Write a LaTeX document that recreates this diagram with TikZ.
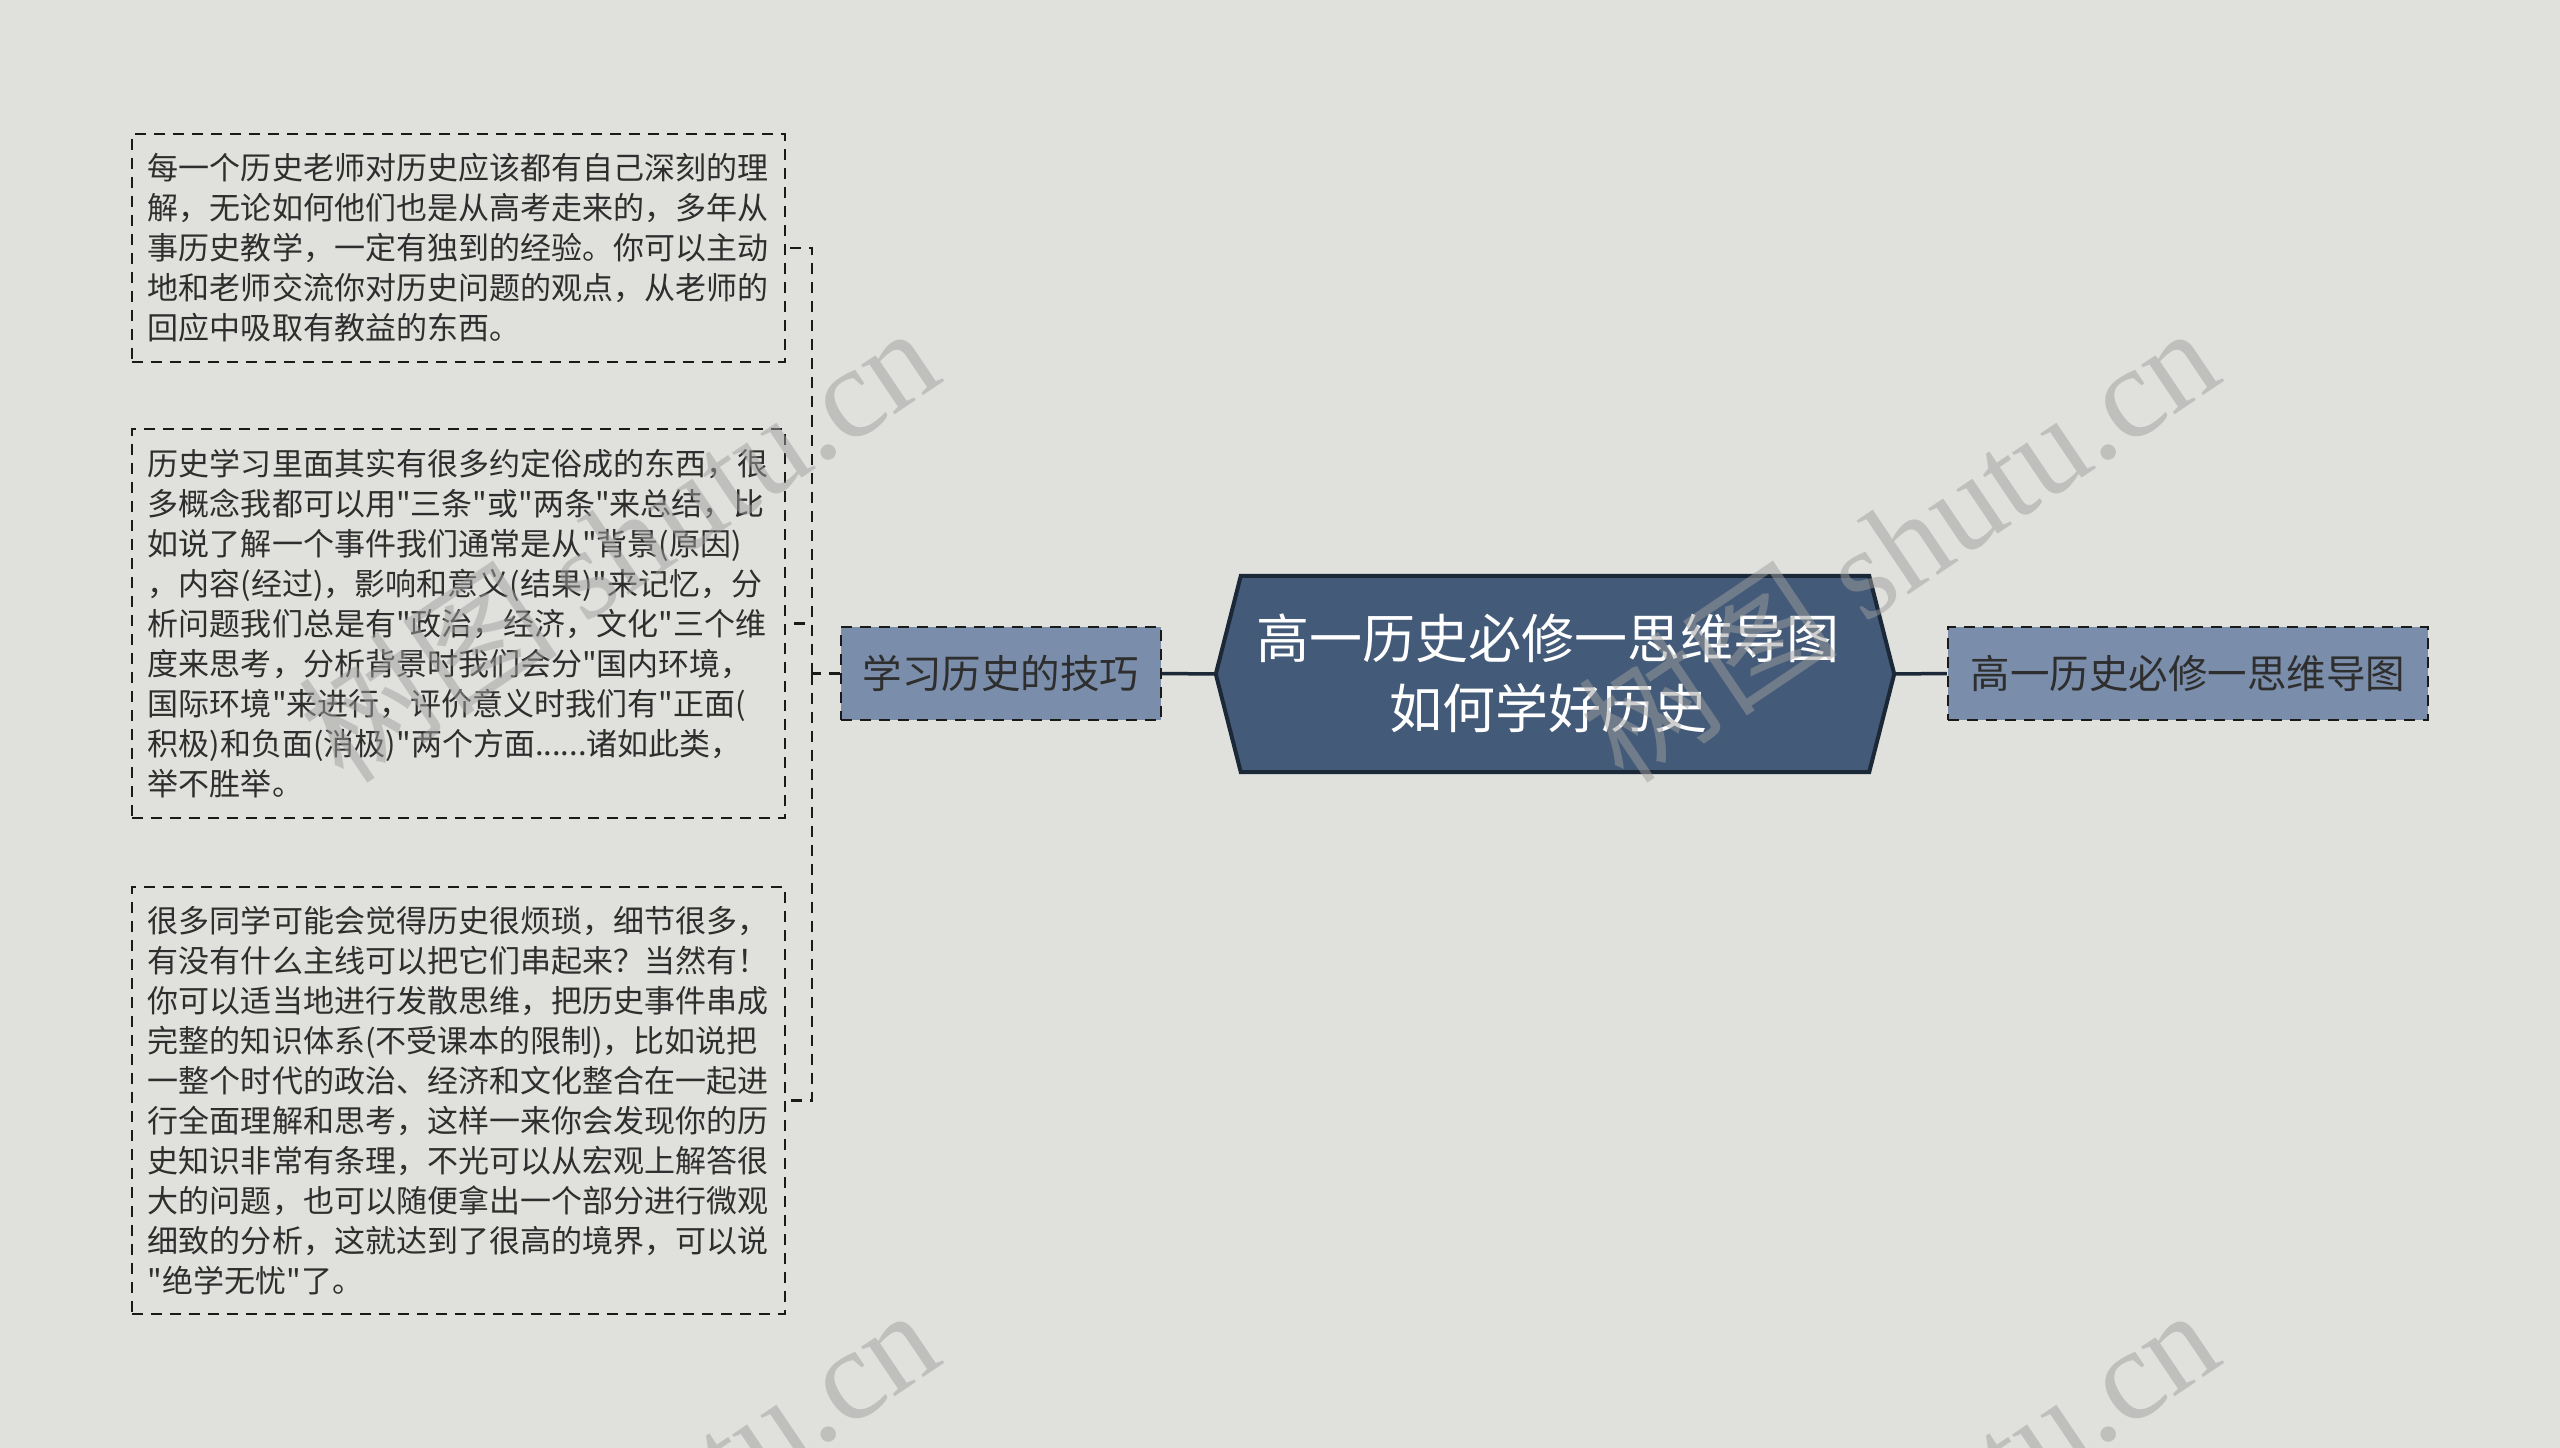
\documentclass[tikz,border=0pt]{standalone}
\usepackage{fontspec}
\setmainfont{Noto Sans CJK SC}[Ligatures=TeXOff]
\newfontfamily\wmlatin{Liberation Serif}
\definecolor{bgc}{HTML}{E0E1DD}
\definecolor{hexfill}{HTML}{435A78}
\definecolor{hexline}{HTML}{1B2838}
\definecolor{sidefill}{HTML}{7A8DAA}
\definecolor{txt}{HTML}{2E2E2E}
\definecolor{dashc}{HTML}{1A1A1A}
\begin{document}
\begin{tikzpicture}[x=1bp,y=-1bp,
  leaf/.style={draw=dashc, line width=2.2bp, dash pattern=on 11bp off 8bp, text=txt, align=left, text width=621bp, inner xsep=16bp, inner ysep=0bp, font=\fontsize{31bp}{40bp}\selectfont},
  side/.style={draw=dashc, fill=sidefill, line width=2.2bp, dash pattern=on 11bp off 8bp, text=txt, minimum height=93bp, inner sep=0bp, font=\fontsize{39.5bp}{48bp}\selectfont},
  conn/.style={draw=hexline, line width=3.5bp},
  tree/.style={draw=dashc, line width=2.2bp, dash pattern=on 11bp off 8bp},
  wm/.style={text=gray!75, text opacity=0.5, rotate=34, anchor=base east, inner sep=0pt, font=\fontsize{130bp}{130bp}\selectfont}
]
\fill[bgc] (0,0) rectangle (2560,1448);
\useasboundingbox (0,0) rectangle (2560,1448);

% leaves
\node[leaf, minimum height=228bp] (leaf1) at (458.5,248) {每一个历史老师对历史应该都有自己深刻的理\\
解，无论如何他们也是从高考走来的，多年从\\
事历史教学，一定有独到的经验。你可以主动\\
地和老师交流你对历史问题的观点，从老师的\\
回应中吸取有教益的东西。};

\node[leaf, minimum height=389bp] (leaf2) at (458.5,623.5) {历史学习里面其实有很多约定俗成的东西，很\\
多概念我都可以用"三条"或"两条"来总结，比\\
如说了解一个事件我们通常是从"背景(原因)\\
，内容(经过)，影响和意义(结果)"来记忆，分\\
析问题我们总是有"政治，经济，文化"三个维\\
度来思考，分析背景时我们会分"国内环境，\\
国际环境"来进行，评价意义时我们有"正面(\\
积极)和负面(消极)"两个方面......诸如此类，\\
举不胜举。};

\node[leaf, minimum height=427bp] (leaf3) at (458.5,1100.5) {很多同学可能会觉得历史很烦琐，细节很多，\\
有没有什么主线可以把它们串起来？当然有！\\
你可以适当地进行发散思维，把历史事件串成\\
完整的知识体系(不受课本的限制)，比如说把\\
一整个时代的政治、经济和文化整合在一起进\\
行全面理解和思考，这样一来你会发现你的历\\
史知识非常有条理，不光可以从宏观上解答很\\
大的问题，也可以随便拿出一个部分进行微观\\
细致的分析，这就达到了很高的境界，可以说\\
"绝学无忧"了。};

% side nodes
\node[side, minimum width=320bp] (skill) at (1001,673.5) {学习历史的技巧};
\node[side, minimum width=480bp] (title) at (2188,673.5) {高一历史必修一思维导图};

% central hexagon
\path (1555,674) node[minimum width=678bp, minimum height=196bp, inner sep=0pt] (hex) {};
\filldraw[fill=hexfill, draw=hexline, line width=4bp, line join=miter]
  (hex.west) -- ([xshift=25bp]hex.north west) -- ([xshift=-25bp]hex.north east)
  -- (hex.east) -- ([xshift=-25bp]hex.south east) -- ([xshift=25bp]hex.south west) -- cycle;
\node[text=white, align=center, inner sep=0pt, font=\fontsize{53bp}{70bp}\selectfont] (hextext) at (1548,673) {高一历史必修一思维导图\\如何学好历史};

% connectors
\draw[conn] (hex.west) -- (skill.east);
\draw[conn] (hex.east) -- (title.west);
\coordinate (trunk) at (812,673.5);
\draw[tree] (skill.west) -- (trunk);
\draw[tree] (trunk) |- (leaf1.east);
\draw[tree] (trunk) |- (leaf2.east);
\draw[tree] (trunk) |- (leaf3.east);

% watermarks
\begin{scope}
\clip (0,0) rectangle (2560,1448);
\node[wm] (wm1) at (947,380) {树图 {\wmlatin shutu.cn}};
\node[wm] (wm2) at (2227,380) {树图 {\wmlatin shutu.cn}};
\node[wm] (wm3) at (947,1362) {树图 {\wmlatin shutu.cn}};
\node[wm] (wm4) at (2227,1362) {树图 {\wmlatin shutu.cn}};
\end{scope}
\end{tikzpicture}
\end{document}
